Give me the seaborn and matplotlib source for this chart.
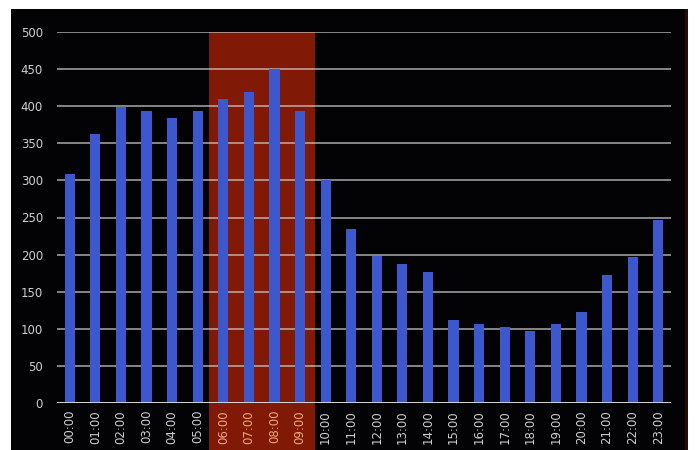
import matplotlib
matplotlib.use("Agg")
import matplotlib.pyplot as plt
from matplotlib.patches import Rectangle
import pandas as pd
import seaborn as sns

# hourly counts
HOURS = [f"{h:02d}:00" for h in range(24)]
COUNTS = [308, 363, 399, 393, 384, 393, 410, 419, 450, 393, 300, 234,
          198, 188, 177, 112, 107, 102, 97, 106, 122, 172, 197, 247]
PEAK_HOURS = ["06:00", "07:00", "08:00", "09:00"]
Y_TICKS = [0, 50, 100, 150, 200, 250, 300, 350, 400, 450, 500]

df = pd.DataFrame({"hour": HOURS, "count": COUNTS})

sns.set_style("dark")
plt.rcParams["font.family"] = ["DejaVu Sans"]

fig = plt.figure(figsize=(6.95, 4.5), dpi=100)
fig.patch.set_facecolor("white")
# black panel behind everything
fig.patches.append(Rectangle((11 / 695, 0), 674 / 695, 1 - 9 / 450,
                             transform=fig.transFigure, facecolor="#030306",
                             edgecolor="none", zorder=-10))
fig.patches.append(Rectangle((685 / 695, 0), 3 / 695, 1 - 9 / 450,
                             transform=fig.transFigure, facecolor="#2a0a08",
                             edgecolor="none", zorder=-10))

ax = fig.add_axes([57 / 695, 1 - 403 / 450, 614 / 695, 371 / 450])
ax.set_facecolor("none")
ax.set_zorder(1)

sns.barplot(data=df, x="hour", y="count", color="#3d58cc", width=0.4,
            saturation=1, linewidth=0, edgecolor="none", ax=ax, zorder=3)

# highlighted morning peak, running down behind the tick labels
i0 = HOURS.index(PEAK_HOURS[0])
i1 = HOURS.index(PEAK_HOURS[-1])
ax.axvspan(i0 - 0.55, i1 + 0.6, ymin=-0.14, ymax=1.0, color="#801a06",
           clip_on=False, zorder=0.2, lw=0)

ax.set_xlim(-0.5, len(HOURS) - 0.5)
ax.set_ylim(0, 500)
ax.set_yticks(Y_TICKS)
ax.grid(axis="y", color="#cfcfcf", linewidth=1.2, alpha=0.75, zorder=1)
ax.grid(axis="x", visible=False)
ax.set_axisbelow(False)
for line in ax.get_ygridlines():
    line.set_zorder(1)
ax.axhline(0, color="#dcdcdc", linewidth=2, zorder=4)

for s in ax.spines.values():
    s.set_visible(False)

ax.tick_params(axis="y", length=0, pad=10, labelsize=8.5, labelcolor="#cfcfcf")
ax.tick_params(axis="x", length=0, pad=5, labelsize=8.5, labelrotation=90)
for lbl in ax.get_xticklabels():
    lbl.set_color("#eeaa7a" if lbl.get_text() in PEAK_HOURS else "#cfcfcf")
    lbl.set_va("top")

ax.set_xlabel("")
ax.set_ylabel("")

fig.savefig("out.png", dpi=100)
